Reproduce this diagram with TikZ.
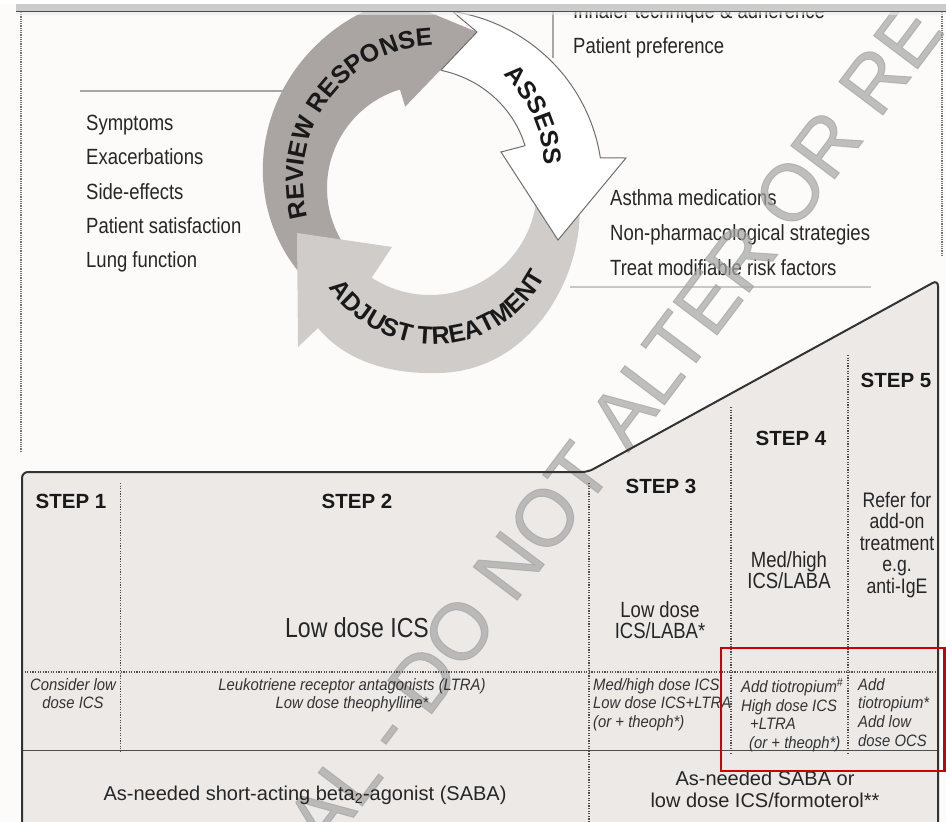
\documentclass[tikz,border=0pt]{standalone}
\usepackage{fontspec}
\setmainfont{Liberation Sans}
\newfontfamily\cnd[FakeStretch=0.84]{Liberation Sans}
\newfontfamily\cndi[FakeStretch=0.9]{Liberation Sans}
\newfontfamily\wmfont[FakeBold=1.2]{Liberation Sans}
\usetikzlibrary{decorations.text}
\definecolor{bgw}{RGB}{252,251,249}
\definecolor{panel}{RGB}{236,233,231}
\definecolor{revgray}{RGB}{170,165,163}
\definecolor{adjgray}{RGB}{208,204,202}
\definecolor{outl}{RGB}{110,110,110}
\definecolor{redbox}{RGB}{204,0,0}
\definecolor{wmark}{RGB}{165,165,165}
\newcommand\cycfont{\bfseries\fontsize{25}{25}\selectfont}
\tikzset{
  listtxt/.style={font=\cnd\fontsize{22}{34.5}\selectfont, align=left, anchor=north west, inner sep=0pt, text=black!85},
  stephead/.style={font=\bfseries\fontsize{20.5}{24}\selectfont, anchor=base, inner sep=0pt, text=black!90},
  medtxt/.style={font=\cnd\fontsize{22}{21.5}\selectfont, align=center, anchor=north, inner sep=0pt, text=black!85},
  addtxt/.style={font=\cndi\itshape\fontsize{16.5}{18.7}\selectfont, inner sep=0pt, anchor=north west, align=left, text=black!80},
  sabatxt/.style={font=\fontsize{20}{22}\selectfont, inner sep=0pt, text=black!85},
  dotsep/.style={draw=black!70, line width=1.1pt, dash pattern=on 1.1pt off 1.5pt},
  edgedot/.style={draw=black!55, line width=1.3pt, dash pattern=on 0.9pt off 0.9pt},
  thinrule/.style={draw=black!35, line width=1.4pt},
  frameline/.style={draw=black!80, line width=2pt, rounded corners=6pt},
  arclabel/.style={decorate, decoration={text along path, text align=center, text color=black!90}}
}
\begin{document}
\begin{tikzpicture}[x=1pt,y=-1pt]
\useasboundingbox (0,0) rectangle (946,822);
\fill[bgw] (0,0) rectangle (946,822);
% step panel background
\fill[panel, rounded corners=6pt] (22,850) -- (22,472) -- (588,472) -- (938,280) -- (938,850) -- cycle;
% rules of the upper part
\draw[thinrule] (80,91) -- (292,91);
\draw[thinrule] (553,10) -- (553,58);
\draw[thinrule, draw=black!22] (570,287) -- (871,287);
\draw[edgedot] (21,12) -- (21,452);
\draw[edgedot] (942,12) -- (942,256);
% REVIEW RESPONSE arrow
\fill[revgray] plot[domain=140:253, samples=60] ({430+(163+0.32*(\x-170))*cos(\x)}, {188+(163+0.32*(\x-170))*sin(\x)})
  -- (368.6,-12.8) -- (477,32) -- (405.2,106.7) -- (399.9,89.5)
  -- plot[domain=0:1, samples=60, variable=\t] ({430+103*cos(253-113*\t)}, {188+103*sin(253-113*\t)}) -- cycle;
% ADJUST TREATMENT arrow
\fill[adjgray] (535,195) -- (578,190) .. controls (590,260) and (540,370) .. (440,373)
  .. controls (380,375) and (340,355) .. (318,328) -- (298,347) -- (297,233) -- (392,247) -- (371.7,277.7)
  -- plot[domain=0:1, samples=60, variable=\t] ({430+107*cos(123-119*\t)}, {188+107*sin(123-119*\t)}) -- cycle;
% ASSESS arrow
\filldraw[fill=white, draw=outl, line width=1pt] (441,70) -- (477,32) -- (452,11)
  -- plot[domain=277:350, samples=50] ({430+(178-5*(\x-277)/73)*cos(\x)}, {188+(178-5*(\x-277)/73)*sin(\x)})
  -- (626,158) -- (558,240) -- (501,152)
  -- plot[domain=0:1, samples=50, variable=\t] ({430+(104+14*\t)*cos(336-60*\t)}, {188+(104+14*\t)*sin(336-60*\t)}) -- cycle;
% cycle labels
\path[arclabel, decoration={text={|\cycfont|REVIEW RESPONSE}}]
  plot[domain=150:282, samples=90] ({438+135*cos(\x)}, {180+135*sin(\x)});
\path[arclabel, decoration={text={|\cycfont|ASSESS}}]
  plot[domain=295.6:375.6, samples=60] ({418+126*cos(\x)}, {168+126*sin(\x)});
\path[arclabel, decoration={text={|\cycfont|ADJUST TREATMENT}}]
  plot[domain=0:1, samples=90, variable=\t] ({434+126*cos(160-146*\t)}, {218+126*sin(160-146*\t)});
% lists
\node[listtxt, font=\cnd\fontsize{22}{34.3}\selectfont] (reviewlist) at (86,115) {Symptoms\\Exacerbations\\Side-effects\\Patient satisfaction\\Lung function};
\node[listtxt, font=\cnd\fontsize{22}{35}\selectfont] (assesslist) at (573,2) {Inhaler technique \& adherence\\Patient preference};
\node[listtxt, font=\cnd\fontsize{22}{35}\selectfont] (adjustlist) at (610,189) {Asthma medications\\Non-pharmacological strategies\\Treat modifiable risk factors};
% watermark
\node[font=\wmfont\fontsize{80}{80}\selectfont, text=wmark, opacity=0.7, rotate=53, inner sep=0pt] (wm) at (614,426) {AL - DO NOT ALTER OR RE};
% step panel lines
\draw[dotsep] (120.5,483) -- (120.5,753);
\draw[dotsep] (589,483) -- (589,822);
\draw[dotsep] (731,407) -- (731,753);
\draw[dotsep] (848,355) -- (848,753);
\draw[dotsep] (22,672) -- (938,672);
\draw[draw=black!70, line width=1pt] (22,750) -- (938,750);
\draw[frameline] (22,850) -- (22,472) -- (588,472) -- (938,280) -- (938,850);
% step headings
\node[stephead] (s1) at (71,508) {STEP 1};
\node[stephead] (s2) at (357,508) {STEP 2};
\node[stephead] (s3) at (661,493) {STEP 3};
\node[stephead] (s4) at (791,445) {STEP 4};
\node[stephead] (s5) at (896,387) {STEP 5};
% preferred controllers
\node[font=\cnd\fontsize{27.5}{30}\selectfont, anchor=base, inner sep=0pt, text=black!85] (c2) at (357,637) {Low dose ICS};
\node[medtxt] (c3) at (660,601) {Low dose\\ICS/LABA*};
\node[medtxt] (c4) at (789,551) {Med/high\\ICS/LABA};
\node[medtxt, font=\cnd\fontsize{21}{21.5}\selectfont] (c5) at (897,492) {Refer for\\add-on\\treatment\\e.g.\\anti-IgE};
% other controller options
\node[addtxt, anchor=north, align=center] (o1) at (73,678) {Consider low\\dose ICS};
\node[addtxt, anchor=north, align=center] (o2) at (352,678) {Leukotriene receptor antagonists (LTRA)\\Low dose theophylline*};
\node[addtxt] (o3) at (593,678) {Med/high dose ICS\\Low dose ICS+LTRA\\(or + theoph*)};
\node[addtxt] (o4) at (741,678) {Add tiotropium\textsuperscript{\#}\\High dose ICS\\\hspace*{9pt}+LTRA\\\hspace*{8pt}(or + theoph*)};
\node[addtxt] (o5) at (858,678) {Add\\tiotropium*\\Add low\\dose OCS};
% relievers
\node[sabatxt, anchor=base] (r1) at (305,800) {As-needed short-acting beta\textsubscript{2}-agonist (SABA)};
\node[sabatxt, anchor=north, align=center] (r2) at (765,770.5) {As-needed SABA or\\low dose ICS/formoterol**};
% top bar
\fill[white] (0,0) rectangle (946,4);
\fill[black!20] (16,4) rectangle (946,10.5);
\fill[black!70] (16,10.5) rectangle (946,12);
\fill[black!8, opacity=0.6] (16,12) rectangle (946,15);
% highlight
\draw[redbox, line width=2.4pt] (721,648) rectangle (944.5,771);
\end{tikzpicture}
\end{document}
